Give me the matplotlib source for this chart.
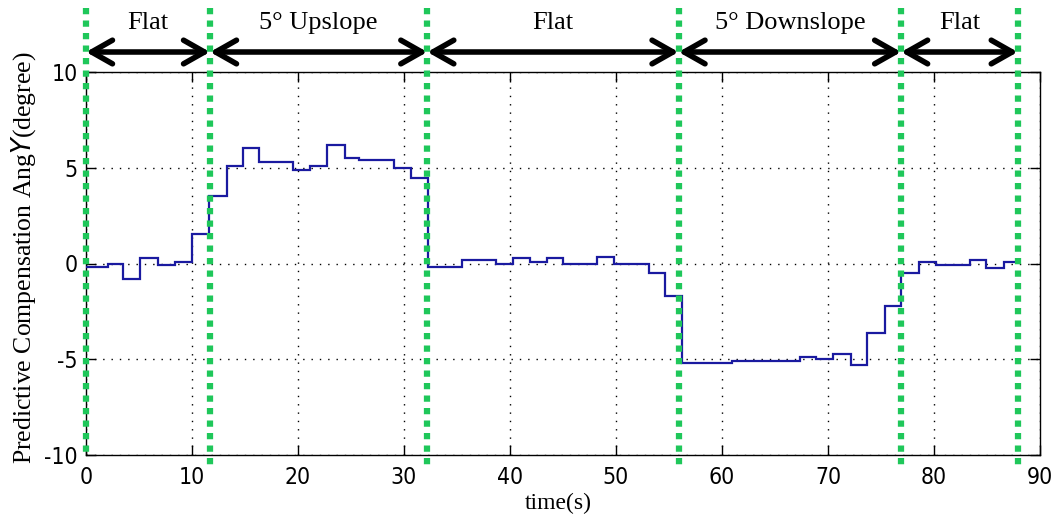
import matplotlib
matplotlib.use("Agg")
import matplotlib.pyplot as plt
from matplotlib.transforms import blended_transform_factory

# Step edges (s) and held compensation angle (degree) for each interval
step_edges = [0, 2.1, 3.5, 5.1, 6.8, 8.4, 10.0, 11.6, 13.3, 14.8,
              16.3, 19.5, 21.1, 22.7, 24.4, 25.8, 29.1, 30.7, 32.3, 35.5,
              38.7, 40.3, 41.9, 43.5, 45.0, 48.2, 49.8, 53.1, 54.6, 56.2,
              60.9, 67.4, 68.9, 70.5, 72.2, 73.7, 75.4, 76.9, 78.6, 80.2,
              83.4, 84.9, 86.6, 88.0]
step_values = [-0.17, 0.0, -0.83, 0.31, -0.09, 0.08, 1.55, 3.50, 5.09, 6.03,
               5.29, 4.86, 5.09, 6.20, 5.52, 5.38, 5.00, 4.45, -0.17, 0.20,
               0.0, 0.31, 0.09, 0.31, 0.0, 0.34, 0.0, -0.52, -1.68, -5.17,
               -5.09, -4.86, -4.97, -4.74, -5.30, -3.62, -2.24, -0.52, 0.09, -0.09,
               0.20, -0.21, 0.07]

# Terrain segment boundaries (s) and their names
segment_bounds = [0, 11.7, 32.2, 55.9, 76.9, 87.9]
segment_names = ["Flat", "5° Upslope", "Flat", "5° Downslope", "Flat"]

x_ticks = [0, 10, 20, 30, 40, 50, 60, 70, 80, 90]
y_ticks = [-10, -5, 0, 5, 10]

plt.rcParams["axes.unicode_minus"] = False
serif = ["Liberation Serif", "DejaVu Serif"]

fig = plt.figure(figsize=(10.53, 5.17), dpi=100)
ax = fig.add_axes([86 / 1053, 1 - 455 / 517, (1040 - 86) / 1053, (455 - 72) / 517])

ax.stairs(step_values, step_edges, baseline=None, color="#1a1aa0", lw=1.6, zorder=3)

ax.set_xlim(0, 90)
ax.set_ylim(-10, 10)
ax.set_xticks(x_ticks)
ax.set_yticks(y_ticks)
ax.grid(True, color="black", linestyle=(0, (1, 5)), linewidth=1.0)
ax.tick_params(direction="in", length=7, width=1, top=True, right=True,
               labelsize=16.5)
ax.tick_params(axis="x", pad=8)
ax.tick_params(axis="y", pad=6)
for lab in ax.get_xticklabels() + ax.get_yticklabels():
    lab.set_family("DejaVu Sans")
    lab.set_fontstretch("condensed")
for sp in ax.spines.values():
    sp.set_linewidth(1.0)

ax.set_xlabel("time(s)", family=serif, fontsize=17)
ax.xaxis.set_label_coords((558 - 86) / (1040 - 86), -(493 - 455) / (455 - 72))
ax.set_ylabel("Predictive Compensation Ang$\\mathit{Y}$(degree)", family=serif,
              fontsize=18.5)
ax.yaxis.set_label_coords(-(86 - 38) / (1040 - 86), (455 - 258) / (455 - 72))

# Segment boundary markers spanning above and below the axes
trans = blended_transform_factory(ax.transData, fig.transFigure)
for i, xb in enumerate(segment_bounds):
    y_low = 1 - 455 / 517 if i == 0 else 1 - 470 / 517
    ax.plot([xb, xb], [1 - 8 / 517, y_low], transform=trans, clip_on=False,
            color="#1fc75a", lw=4.5, linestyle=(0, (1, 1)), zorder=5,
            solid_capstyle="butt", dash_capstyle="butt")

# Double-headed arrows and segment names
arrow_y = 1 - 52 / 517
label_y = 1 - 23 / 517
for name, x0, x1 in zip(segment_names, segment_bounds[:-1], segment_bounds[1:]):
    ax.annotate("", xy=(x1, arrow_y), xytext=(x0, arrow_y),
                xycoords=trans, textcoords=trans, annotation_clip=False,
                arrowprops=dict(arrowstyle="<->,head_length=1.5,head_width=0.85",
                                color="black", lw=4, shrinkA=0, shrinkB=0))
    ax.text((x0 + x1) / 2, label_y, name, transform=trans, ha="center",
            va="center", family=serif, fontsize=19)

fig.savefig("out.png", dpi=100)
